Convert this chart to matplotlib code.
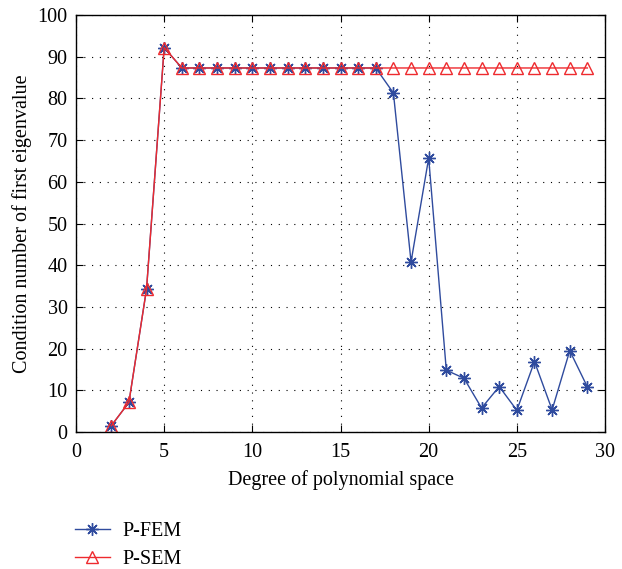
import matplotlib.pyplot as plt
import numpy as np

plt.rcParams['font.family'] = ['Liberation Serif', 'DejaVu Serif']

# degree of polynomial space
degree = np.arange(2, 30)

# condition number of first eigenvalue
p_fem = [1.5, 7.1, 34.3, 92.2, 87.3, 87.3, 87.3, 87.3, 87.3, 87.3, 87.3, 87.3,
         87.3, 87.3, 87.3, 87.3, 81.3, 40.8, 65.7, 14.8, 12.9, 5.75, 10.9, 5.2,
         16.9, 5.3, 19.5, 10.8]
p_sem = [1.5, 7.1, 34.3, 92.2, 87.3, 87.3, 87.3, 87.3, 87.3, 87.3, 87.3, 87.3,
         87.3, 87.3, 87.3, 87.3, 87.3, 87.3, 87.3, 87.3, 87.3, 87.3, 87.3, 87.3,
         87.3, 87.3, 87.3, 87.3]

fs = 14.5

fig = plt.figure(figsize=(6.22, 5.69), dpi=100)
ax = fig.add_axes([0.1222, 0.2408, 0.8505, 0.7328])

ax.plot(degree, p_fem, color='#2F4B9E', lw=1.0, marker=(8, 2, 0), ms=9,
        markeredgewidth=1.0, label='P-FEM')
ax.plot(degree, p_sem, color='#EE2A2E', lw=1.0, marker='^', ms=9,
        markerfacecolor='none', markeredgewidth=1.0, label='P-SEM')

ax.set_xlim(0, 30)
ax.set_ylim(0, 100)
ax.set_xticks(np.arange(0, 31, 5))
ax.set_yticks(np.arange(0, 101, 10))
ax.grid(True, linestyle=(0, (1, 6)), color='k', lw=0.8)
ax.tick_params(direction='in', top=True, right=True, labelsize=fs, length=5)
ax.tick_params(axis='x', pad=8)
ax.tick_params(axis='y', pad=6)
for s in ax.spines.values():
    s.set_linewidth(1.0)

ax.set_xlabel('Degree of polynomial space', fontsize=fs, labelpad=6)
ax.set_ylabel('Condition number of first eigenvalue', fontsize=fs, labelpad=4)

fig.legend(loc='upper left', bbox_to_anchor=(0.104, 0.1), frameon=False,
           fontsize=fs, handlelength=1.75, handletextpad=0.6,
           labelspacing=0.45, borderpad=0)

fig.savefig('out.png', dpi=100)
